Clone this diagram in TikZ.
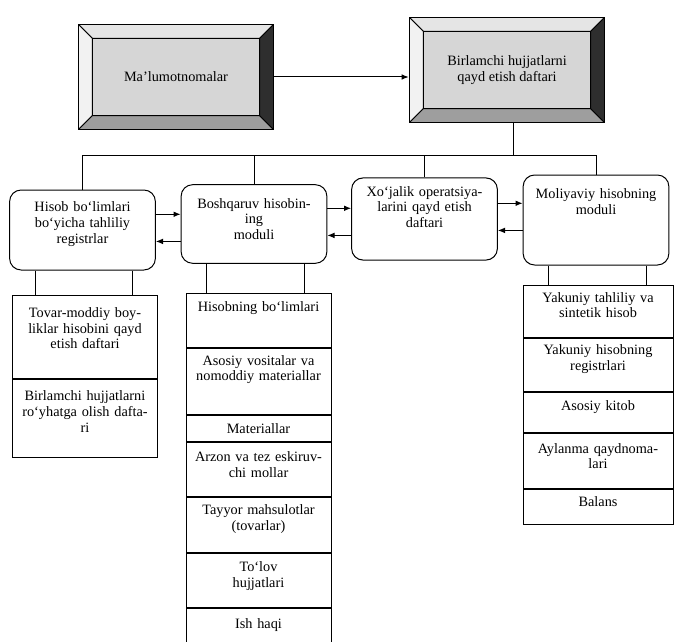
\documentclass[tikz,border=0pt]{standalone}
\usepackage{fontspec}
\setmainfont{Liberation Serif}
\usepackage{xcolor}
\definecolor{face}{gray}{0.84}
\definecolor{bevtop}{gray}{0.90}
\definecolor{bevleft}{gray}{0.95}
\definecolor{bevbot}{gray}{0.62}
\definecolor{bevright}{gray}{0.18}
\usepackage{tikz}
\usetikzlibrary{arrows.meta, positioning, calc}

\newcommand{\bev}{10pt}
\newcommand{\liftspace}[1]{\endgraf\vspace*{#1}}

\begin{document}
\begin{tikzpicture}[x=0.7pt, y=-0.7pt, >={Latex[length=5pt,width=4pt]},
  line width=0.7pt,
  every node/.style={font=\fontsize{10}{11}\selectfont},
  textlift/.style={execute at end node={\liftspace{#1}}},
  textlift/.default=7pt,
  modbox/.style={draw, rounded corners=8pt, text width=96pt, align=center,
                 inner sep=3pt},
  cell/.style={draw, text width=94pt, align=center, inner sep=2pt,
               anchor=north},
  bevelbox/.style={draw, fill=face, minimum width=137pt, minimum height=74pt,
                   align=center,
    path picture={
      \path (path picture bounding box.north west) coordinate (bnw)
            (path picture bounding box.north east) coordinate (bne)
            (path picture bounding box.south east) coordinate (bse)
            (path picture bounding box.south west) coordinate (bsw);
      \filldraw[fill=bevtop] (bnw) -- (bne) -- ([shift={(-\bev,-\bev)}]bne)
        -- ([shift={(\bev,-\bev)}]bnw) -- cycle;
      \filldraw[fill=bevleft] (bnw) -- ([shift={(\bev,-\bev)}]bnw)
        -- ([shift={(\bev,\bev)}]bsw) -- (bsw) -- cycle;
      \filldraw[fill=bevbot] (bsw) -- ([shift={(\bev,\bev)}]bsw)
        -- ([shift={(-\bev,\bev)}]bse) -- (bse) -- cycle;
      \filldraw[fill=bevright] (bse) -- ([shift={(-\bev,\bev)}]bse)
        -- ([shift={(-\bev,-\bev)}]bne) -- (bne) -- cycle;
    }}]

  \useasboundingbox (0,0) rectangle (675,641);

  % top row
  \node[bevelbox] (malum) at (176,77) {Ma'lumotnomalar};
  \node[bevelbox] (birl) at (507,70) {Birlamchi hujjatlarni\\qayd etish daftari};

  \draw[->] (malum.east) -- (malum.east -| birl.west);

  % modules
  \node[modbox, minimum height=56pt, textlift=8pt] (hisob) at (82.5,230)
    {Hisob bo‘limlari\\bo‘yicha tahliliy\\registrlar};
  \node[modbox, minimum height=55pt, textlift=7pt] (bosh) at (254,224)
    {Boshqaruv hisobin-\\ing\\moduli};
  \node[modbox, minimum height=57.5pt, textlift=17pt] (xoj) at (424.5,219)
    {Xo‘jalik operatsiya-\\larini qayd etish\\daftari};
  \node[modbox, minimum height=63pt, textlift=26pt] (moliya) at (596,220)
    {Moliyaviy hisobning\\moduli};

  % bus from the register
  \coordinate (bus) at (0,155);
  \draw (hisob.north) -- (hisob.north |- bus) -- (moliya.north |- bus)
    -- (moliya.north);
  \draw (bosh.north) -- (bosh.north |- bus);
  \draw (xoj.north) -- (xoj.north |- bus);
  \draw ([xshift=4.5pt]birl.south) -- ([xshift=4.5pt]birl.south |- bus);

  % two-way links between modules
  \foreach \a/\b in {hisob/bosh, bosh/xoj, xoj/moliya} {
    \draw[->] ([yshift=11pt]\a.east) -- ([yshift=11pt]\a.east -| \b.west);
    \draw[->] ([yshift=-8pt]\a.east -| \b.west) -- ([yshift=-8pt]\a.east);
  }

  % left list
  \node[cell, minimum width=102pt, minimum height=58pt, textlift=12pt]
    (tovar) at (85,295) {Tovar-moddiy boy-\\liklar hisobini qayd\\etish daftari};
  \node[cell, minimum width=102pt, minimum height=55pt, textlift=10pt,
        below=0pt of tovar] (royxat)
    {Birlamchi hujjatlarni\\ro‘yhatga olish dafta-\\ri};

  % middle list
  \node[cell, minimum width=101.5pt, minimum height=38pt, textlift=18pt]
    (bolim) at (258.5,293) {Hisobning bo‘limlari};
  \node[cell, minimum width=101.5pt, minimum height=46pt, textlift=17pt,
        below=0pt of bolim] (vosita)
    {Asosiy vositalar va\\nomoddiy materiallar};
  \node[cell, minimum width=101.5pt, minimum height=18pt, textlift=0pt,
        below=0pt of vosita] (mater) {Materiallar};
  \node[cell, minimum width=101.5pt, minimum height=38pt, textlift=7pt,
        below=0pt of mater] (arzon) {Arzon va tez eskiruv-\\chi mollar};
  \node[cell, minimum width=101.5pt, minimum height=38.5pt, textlift=8pt,
        below=0pt of arzon] (tayyor) {Tayyor mahsulotlar\\(tovarlar)};
  \node[cell, minimum width=101.5pt, minimum height=38pt, textlift=6pt,
        below=0pt of tayyor] (tolov) {To‘lov\\hujjatlari};
  \node[cell, minimum width=101.5pt, minimum height=26.5pt, textlift=4pt,
        below=0pt of tolov] (ishhaqi) {Ish haqi};

  % right list
  \node[cell, minimum width=105pt, minimum height=36.5pt, textlift=9pt]
    (yakun) at (598,285) {Yakuniy tahliliy va\\sintetik hisob};
  \node[cell, minimum width=105pt, minimum height=37pt, textlift=8pt,
        below=0pt of yakun] (registr) {Yakuniy hisobning\\registrlari};
  \node[cell, minimum width=105pt, minimum height=28pt, textlift,
        below=0pt of registr] (kitob) {Asosiy kitob};
  \node[cell, minimum width=105pt, minimum height=38.5pt, textlift,
        below=0pt of kitob] (aylanma) {Aylanma qaydnoma-\\lari};
  \node[cell, minimum width=105pt, minimum height=24.5pt, textlift,
        below=0pt of aylanma] (balans) {Balans};

  % modules to their lists
  \foreach \m/\c in {hisob/tovar, bosh/bolim, moliya/yakun} {
    \draw ([xshift=-33pt]\m.south) -- ([xshift=-33pt]\m.south |- \c.north);
    \draw ([xshift=35pt]\m.south) -- ([xshift=35pt]\m.south |- \c.north);
  }

\end{tikzpicture}
\end{document}
